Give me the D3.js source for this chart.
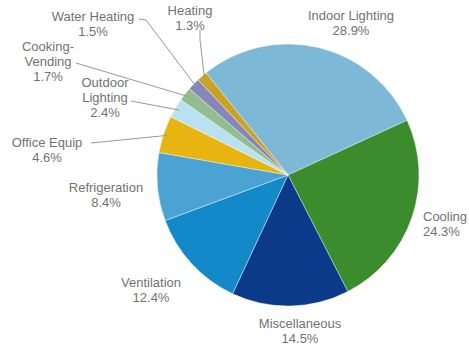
<!DOCTYPE html>
<html>
<head>
<meta charset="utf-8">
<script src="https://cdn.jsdelivr.net/npm/d3@7"></script>
<style>
  body { margin: 0; background: #fff; }
  text { font-family: "Liberation Sans", Arial, sans-serif; font-size: 13px; fill: #727272; }
</style>
</head>
<body>
<svg id="chart"></svg>
<script>
// end uses, share of electricity (%)
const categories = ["Indoor Lighting", "Cooling", "Miscellaneous", "Ventilation", "Refrigeration",
    "Office Equip", "Outdoor Lighting", "Cooking-Vending", "Water Heating", "Heating"];
const shares = [28.9, 24.3, 14.5, 12.4, 8.4, 4.6, 2.4, 1.7, 1.5, 1.3];
const colors = ["#7db8d7", "#3a8c2c", "#0b3a8a", "#1389c9", "#4ba3d3",
    "#e7b411", "#b9e1f1", "#92bd8e", "#8686b8", "#c9a228"];

// label layout: text lines, anchor point, optional leader start (+elbow)
const labelLayout = {
    "Indoor Lighting":  {lines: ["Indoor Lighting"], x: 351, y: 20},
    "Cooling":          {lines: ["Cooling"], x: 423, y: 221, anchor: "start"},
    "Miscellaneous":    {lines: ["Miscellaneous"], x: 300, y: 328},
    "Ventilation":      {lines: ["Ventilation"], x: 151, y: 287},
    "Refrigeration":    {lines: ["Refrigeration"], x: 106, y: 192},
    "Office Equip":     {lines: ["Office Equip"], x: 47, y: 147, leader: [[91, 143]]},
    "Outdoor Lighting": {lines: ["Outdoor", "Lighting"], x: 105, y: 87, leader: [[131, 101]]},
    "Cooking-Vending":  {lines: ["Cooking-", "Vending"], x: 48, y: 51, leader: [[76, 63]]},
    "Water Heating":    {lines: ["Water Heating"], x: 93, y: 21, leader: [[139, 19], [146, 20]]},
    "Heating":          {lines: ["Heating"], x: 190, y: 15, leader: [[200, 30], [200, 40]]}
};

const width = 469, height = 352;
const cx = 288, cy = 175, radius = 131;
const lineH = 15;

const svg = d3.select("#chart")
    .attr("width", width)
    .attr("height", height);

const startAngle = -38.7 * Math.PI / 180;

const pie = d3.pie()
    .sort(null)
    .value(d => d.value)
    .startAngle(startAngle)
    .endAngle(startAngle + 2 * Math.PI);

const data = categories.map((c, i) => ({name: c, value: shares[i], color: colors[i]}));
const arcs = pie(data);

const arc = d3.arc().innerRadius(0).outerRadius(radius);
const edgeArc = d3.arc().innerRadius(radius - 4).outerRadius(radius - 4);

const g = svg.append("g").attr("transform", `translate(${cx},${cy})`);

g.selectAll("path.slice")
    .data(arcs)
    .enter()
    .append("path")
        .attr("class", "slice")
        .attr("d", arc)
        .attr("fill", d => d.data.color)
        .attr("stroke", "#fff")
        .attr("stroke-width", 0.4);

// leader lines for small slices
arcs.forEach(d => {
    let lay = labelLayout[d.data.name];
    if (!lay.leader) return;
    let end = edgeArc.centroid(d);
    let pts = lay.leader.concat([[end[0] + cx, end[1] + cy]]);
    svg.append("path")
        .attr("d", d3.line()(pts))
        .attr("fill", "none")
        .attr("stroke", "#999")
        .attr("stroke-width", 1);
});

// labels
arcs.forEach(d => {
    let lay = labelLayout[d.data.name];
    let t = svg.append("text")
        .attr("text-anchor", lay.anchor || "middle")
        .attr("x", lay.x)
        .attr("y", lay.y);
    let lines = lay.lines.concat([d3.format(".1f")(d.data.value) + "%"]);
    lines.forEach((l, i) => {
        t.append("tspan")
            .attr("x", lay.x)
            .attr("dy", i === 0 ? 0 : lineH)
            .text(l);
    });
});
</script>
</body>
</html>
